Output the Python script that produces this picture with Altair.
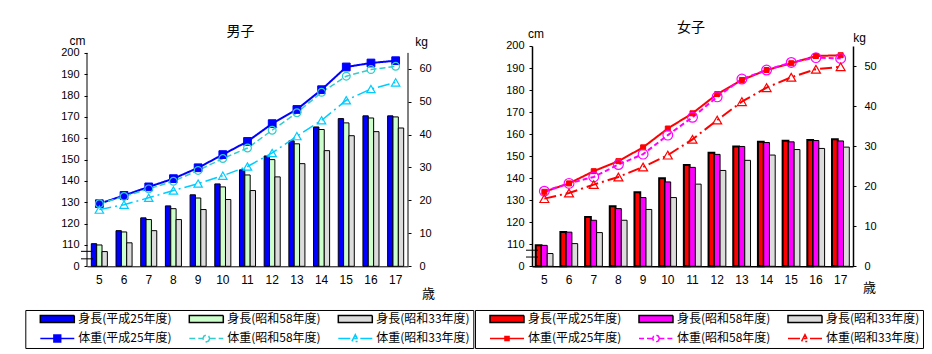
import altair as alt
import pandas as pd

AGES = list(range(5, 18))
LABELS = ["身長(平成25年度)", "身長(昭和58年度)", "身長(昭和33年度)",
          "体重(平成25年度)", "体重(昭和58年度)", "体重(昭和33年度)"]

# 男子 身長 (cm)
boys_h_h25 = [110.6, 116.7, 122.7, 128.3, 133.5, 138.6, 145.2, 151.7, 158.8, 165.3, 169.2, 170.5, 170.5]
boys_h_s58 = [110.0, 116.1, 121.9, 127.0, 132.0, 137.2, 142.8, 150.0, 157.4, 164.1, 167.2, 169.5, 170.0]
boys_h_s33 = [106.9, 111.0, 116.7, 121.9, 126.6, 131.3, 135.5, 141.9, 148.1, 154.2, 161.2, 163.1, 164.8]
# 男子 体重 (kg)
boys_w_h25 = [19.0, 21.5, 24.1, 26.6, 29.9, 33.9, 37.9, 43.3, 47.6, 53.6, 60.5, 61.7, 62.4]
boys_w_s58 = [19.0, 21.2, 23.5, 25.8, 29.1, 32.7, 35.9, 41.3, 46.6, 52.8, 57.7, 59.7, 60.7]
boys_w_s33 = [17.2, 18.7, 20.8, 23.0, 25.1, 27.5, 30.3, 34.4, 39.5, 44.3, 50.4, 53.8, 55.8]

# 女子 身長 (cm)
girls_h_h25 = [109.5, 115.6, 122.4, 127.3, 133.6, 140.0, 146.0, 151.5, 154.4, 156.5, 157.0, 157.3, 157.7]
girls_h_s58 = [109.5, 115.5, 120.9, 126.2, 131.2, 138.3, 144.9, 150.8, 154.4, 156.2, 156.5, 157.1, 156.9]
girls_h_s33 = [105.8, 110.3, 115.3, 120.9, 125.8, 131.2, 137.3, 143.5, 148.1, 150.5, 153.0, 153.5, 154.1]
# 女子 体重 (kg)
girls_w_h25 = [18.6, 20.7, 23.75, 26.25, 29.7, 34.4, 38.2, 43.0, 46.5, 49.0, 50.7, 52.5, 52.7]
girls_w_s58 = [18.75, 20.7, 22.3, 25.4, 28.0, 32.75, 37.2, 42.3, 46.75, 49.0, 50.9, 52.1, 51.9]
girls_w_s33 = [16.9, 18.3, 20.4, 22.3, 24.8, 27.75, 31.7, 36.5, 41.1, 44.6, 47.2, 49.2, 49.8]

JP = "Noto Sans CJK JP"
NUM = "Liberation Sans"

BAR_PATH = "M-1,-0.2H1V0.2H-1Z"


def sq_path(r):
    return f"M-1,0H1M-{r},-{r}H{r}V{r}H-{r}Z"


CIRC_PATH = ("M-1,0H-0.2M0.2,0H1M0.2,0L0.14,0.14L0,0.2L-0.14,0.14L-0.2,0"
             "L-0.14,-0.14L0,-0.2L0.14,-0.14Z")
TRI_PATH = "M-1,0H1M-0.2,0.17L0,-0.22L0.2,0.17Z"

PLOT_W = 321


def make_panel(heights, weights, st):
    bars_df = pd.DataFrame([
        {"age": a, "series": LABELS[i], "value": v}
        for i in range(3) for a, v in zip(AGES, heights[i])
    ])
    lines_df = pd.DataFrame([
        {"age": a, "series": LABELS[3 + i], "value": v}
        for i in range(3) for a, v in zip(AGES, weights[i])
    ])
    own_lines = st["own_axis_lines"]

    x_enc = alt.X(
        "age:O",
        scale=alt.Scale(paddingInner=st["pad"], paddingOuter=st["pad"] / 2),
        axis=alt.Axis(title="歳", titleX=st["sai_x"], titleY=st["sai_y"],
                      titleAlign="center", titleBaseline="middle",
                      titleFont=JP, titleFontSize=13, titleFontWeight="normal",
                      labelAngle=0, ticks=False, labelPadding=8,
                      labelFont=NUM, labelFontSize=12, labelColor="black",
                      domainColor="black", domainWidth=st["axw"]),
    )

    cm_axis = alt.Axis(
        values=list(range(100, 201, 10)),
        labelExpr="datum.value == 100 ? '0' : datum.label",
        labelOverlap=False,
        title="cm", titleAngle=0, titleX=st["cm_x"], titleY=st["cm_y"],
        titleAlign="center", titleBaseline="middle",
        titleFont=NUM, titleFontSize=12, titleFontWeight="normal",
        labelFont=NUM, labelFontSize=11, labelColor="black",
        tickSize=3, labelPadding=5, grid=False,
        domain=not own_lines,
        domainColor="black", tickColor="black", domainWidth=st["axw"],
    )
    kg_axis = alt.Axis(
        orient="right",
        values=list(range(0, st["kg_max"] + 1, 10)),
        labelOverlap=False,
        title="kg", titleAngle=0, titleX=st["kg_x"], titleY=st["kg_y"],
        titleAlign="center", titleBaseline="middle",
        titleFont=NUM, titleFontSize=12, titleFontWeight="normal",
        labelFont=NUM, labelFontSize=11, labelColor="black",
        tickSize=3, labelPadding=8, grid=False,
        domain=not own_lines,
        domainColor="black", tickColor="black", domainWidth=st["axw"],
    )
    cm_scale = alt.Scale(domain=[100, st["cm_top"]], zero=False, nice=False)
    kg_scale = alt.Scale(domain=[0, st["kg_top"]], nice=False, zero=True)

    bars = alt.Chart(bars_df).mark_bar(stroke="black").encode(
        x=x_enc,
        xOffset=alt.XOffset("series:N", scale=alt.Scale(domain=LABELS[:3], paddingInner=0, paddingOuter=0)),
        y=alt.Y("value:Q", scale=cm_scale, axis=cm_axis),
        y2=alt.datum(100),
        color=alt.Color("series:N", scale=alt.Scale(domain=LABELS[:3], range=st["fills"][:3]), legend=None),
        strokeWidth=alt.condition(f"datum.series == '{LABELS[0]}'",
                                  alt.value(st["bar1_sw"]), alt.value(1)),
    )
    breaks = alt.Chart(pd.DataFrame({"cm": st["breaks"]})).mark_rule(
        color="black", strokeWidth=1
    ).encode(y=alt.Y("cm:Q", scale=cm_scale, axis=cm_axis), x=alt.value(-6), x2=alt.value(6))

    cm_children = [bars, breaks]
    if own_lines:
        # axis lines that stop at 200 cm, as in the original
        for xv in (0, PLOT_W):
            cm_children.append(
                alt.Chart(pd.DataFrame({"cm": [100]})).mark_rule(color="black", strokeWidth=1).encode(
                    x=alt.value(xv),
                    y=alt.Y("cm:Q", scale=cm_scale, axis=cm_axis),
                    y2=alt.datum(200),
                )
            )
    cm_layer = alt.layer(*cm_children)

    kg_children = []
    for i in range(3):
        lab = LABELS[3 + i]
        kg_children.append(
            alt.Chart(lines_df).transform_filter(f"datum.series == '{lab}'").mark_line(
                strokeWidth=st["lw"][i], opacity=1, color=st["strokes"][3 + i],
                strokeDash=st["dashes"][3 + i],
            ).encode(
                x="age:O",
                y=alt.Y("value:Q", scale=kg_scale, axis=kg_axis),
            )
        )
    m_shapes = ["square", "circle", "triangle-up"]
    for i in range(3):
        lab = LABELS[3 + i]
        col = st["strokes"][3 + i]
        if i == 0:
            mk = dict(shape=m_shapes[i], filled=True, fill=col, stroke=col,
                      size=st["msize"][i], opacity=1, strokeWidth=1)
        else:
            mk = dict(shape=m_shapes[i], filled=False, stroke=col,
                      size=st["msize"][i], opacity=1, strokeWidth=1.2)
        kg_children.append(
            alt.Chart(lines_df).transform_filter(f"datum.series == '{lab}'").mark_point(
                **mk
            ).encode(
                x="age:O",
                y=alt.Y("value:Q", scale=kg_scale, axis=kg_axis),
            )
        )

    leg = alt.Legend(
        orient="none", legendX=st["leg_x"], legendY=st["leg_y"],
        direction="horizontal", columns=3, gridAlign="all",
        symbolSize=1156, clipHeight=12, rowPadding=7.5, columnPadding=st["colpad"],
        padding=3, strokeColor="black", symbolOffset=11, labelOffset=3,
        labelFont=JP, labelFontSize=12, labelColor="black", labelLimit=300,
        symbolStrokeWidth=1.5,
    )
    legend_layer = alt.Chart(lines_df).transform_filter("false").mark_point(
        filled=True, opacity=1
    ).encode(
        x="age:O",
        y=alt.Y("value:Q", scale=kg_scale, axis=kg_axis),
        fill=alt.Fill("series:N", scale=alt.Scale(domain=LABELS, range=st["fills"]), legend=leg, title=None),
        stroke=alt.Stroke("series:N", scale=alt.Scale(domain=LABELS, range=st["strokes"]), legend=leg, title=None),
        shape=alt.Shape("series:N", scale=alt.Scale(domain=LABELS, range=st["shapes"]), legend=leg, title=None),
        strokeDash=alt.StrokeDash("series:N", scale=alt.Scale(domain=LABELS, range=st["dashes"]), legend=leg, title=None),
    )
    kg_children.append(legend_layer)

    kg_layer = alt.layer(*kg_children)

    return alt.layer(cm_layer, kg_layer).resolve_scale(y="independent").properties(
        width=PLOT_W, height=st["height"],
        title=alt.TitleParams(text=st["title"], font=JP, fontSize=14, fontWeight="normal",
                              anchor="middle", frame="group", dx=st["tdx"],
                              offset=st["toff"], color="black"),
    )


boys_style = dict(
    fills=["#0000FF", "#CCFFCC", "#DCDCDC", "#0000FF", "white", "white"],
    strokes=["black", "black", "black", "#0000FF", "#33CCCC", "#00CCFF"],
    dashes=[[1, 0], [1, 0], [1, 0], [1, 0], [6, 3], [12, 4, 2, 4]],
    shapes=[BAR_PATH, BAR_PATH, BAR_PATH, sq_path(0.2), CIRC_PATH, TRI_PATH],
    pad=0.35, height=220.3, cm_top=203.23, kg_max=60, kg_top=66.86,
    own_axis_lines=True,
    cm_x=-10, cm_y=-5.4, kg_x=13, kg_y=-4,
    sai_x=341, sai_y=27, axw=1, bar1_sw=1,
    lw=[2, 1.5, 1.5], msize=[60, 60, 70],
    breaks=[103.5, 107.0],
    leg_x=-61.7, leg_y=264, colpad=5,
    title="男子", tdx=-7, toff=-4,
)
girls_style = dict(
    fills=["#FF0000", "#FF00FF", "#DCDCDC", "#FF0000", "white", "white"],
    strokes=["black", "black", "black", "#FF0000", "#FF00FF", "#FF0000"],
    dashes=[[1, 0], [1, 0], [1, 0], [1, 0], [5, 3], [12, 4, 2, 4]],
    shapes=[BAR_PATH, BAR_PATH, BAR_PATH, sq_path(0.12), CIRC_PATH, TRI_PATH],
    pad=0.3, height=220.3, cm_top=200, kg_max=50, kg_top=55,
    own_axis_lines=False,
    cm_x=3.5, cm_y=-12, kg_x=6, kg_y=-8,
    sai_x=337, sai_y=21, axw=1.5, bar1_sw=2,
    lw=[2, 2, 2], msize=[25, 95, 80],
    breaks=[104.2, 107.3],
    leg_x=-57, leg_y=264, colpad=5,
    title="女子", tdx=-1.5, toff=-7,
)

boys = make_panel([boys_h_h25, boys_h_s58, boys_h_s33],
                  [boys_w_h25, boys_w_s58, boys_w_s33], boys_style)
girls = make_panel([girls_h_h25, girls_h_s58, girls_h_s33],
                   [girls_w_h25, girls_w_s58, girls_w_s33], girls_style)

chart = alt.hconcat(boys, girls, spacing=0).resolve_scale(
    fill="independent", stroke="independent", shape="independent", color="independent",
    strokeDash="independent", xOffset="independent", x="independent", y="independent",
).resolve_legend(
    fill="independent", stroke="independent", shape="independent", strokeDash="independent"
).properties(
    padding={"left": 24, "top": 21, "right": 0, "bottom": 0},
    background="white",
).configure_view(stroke=None)

chart.save("out.html", embed_options={"renderer": "svg", "actions": False})
